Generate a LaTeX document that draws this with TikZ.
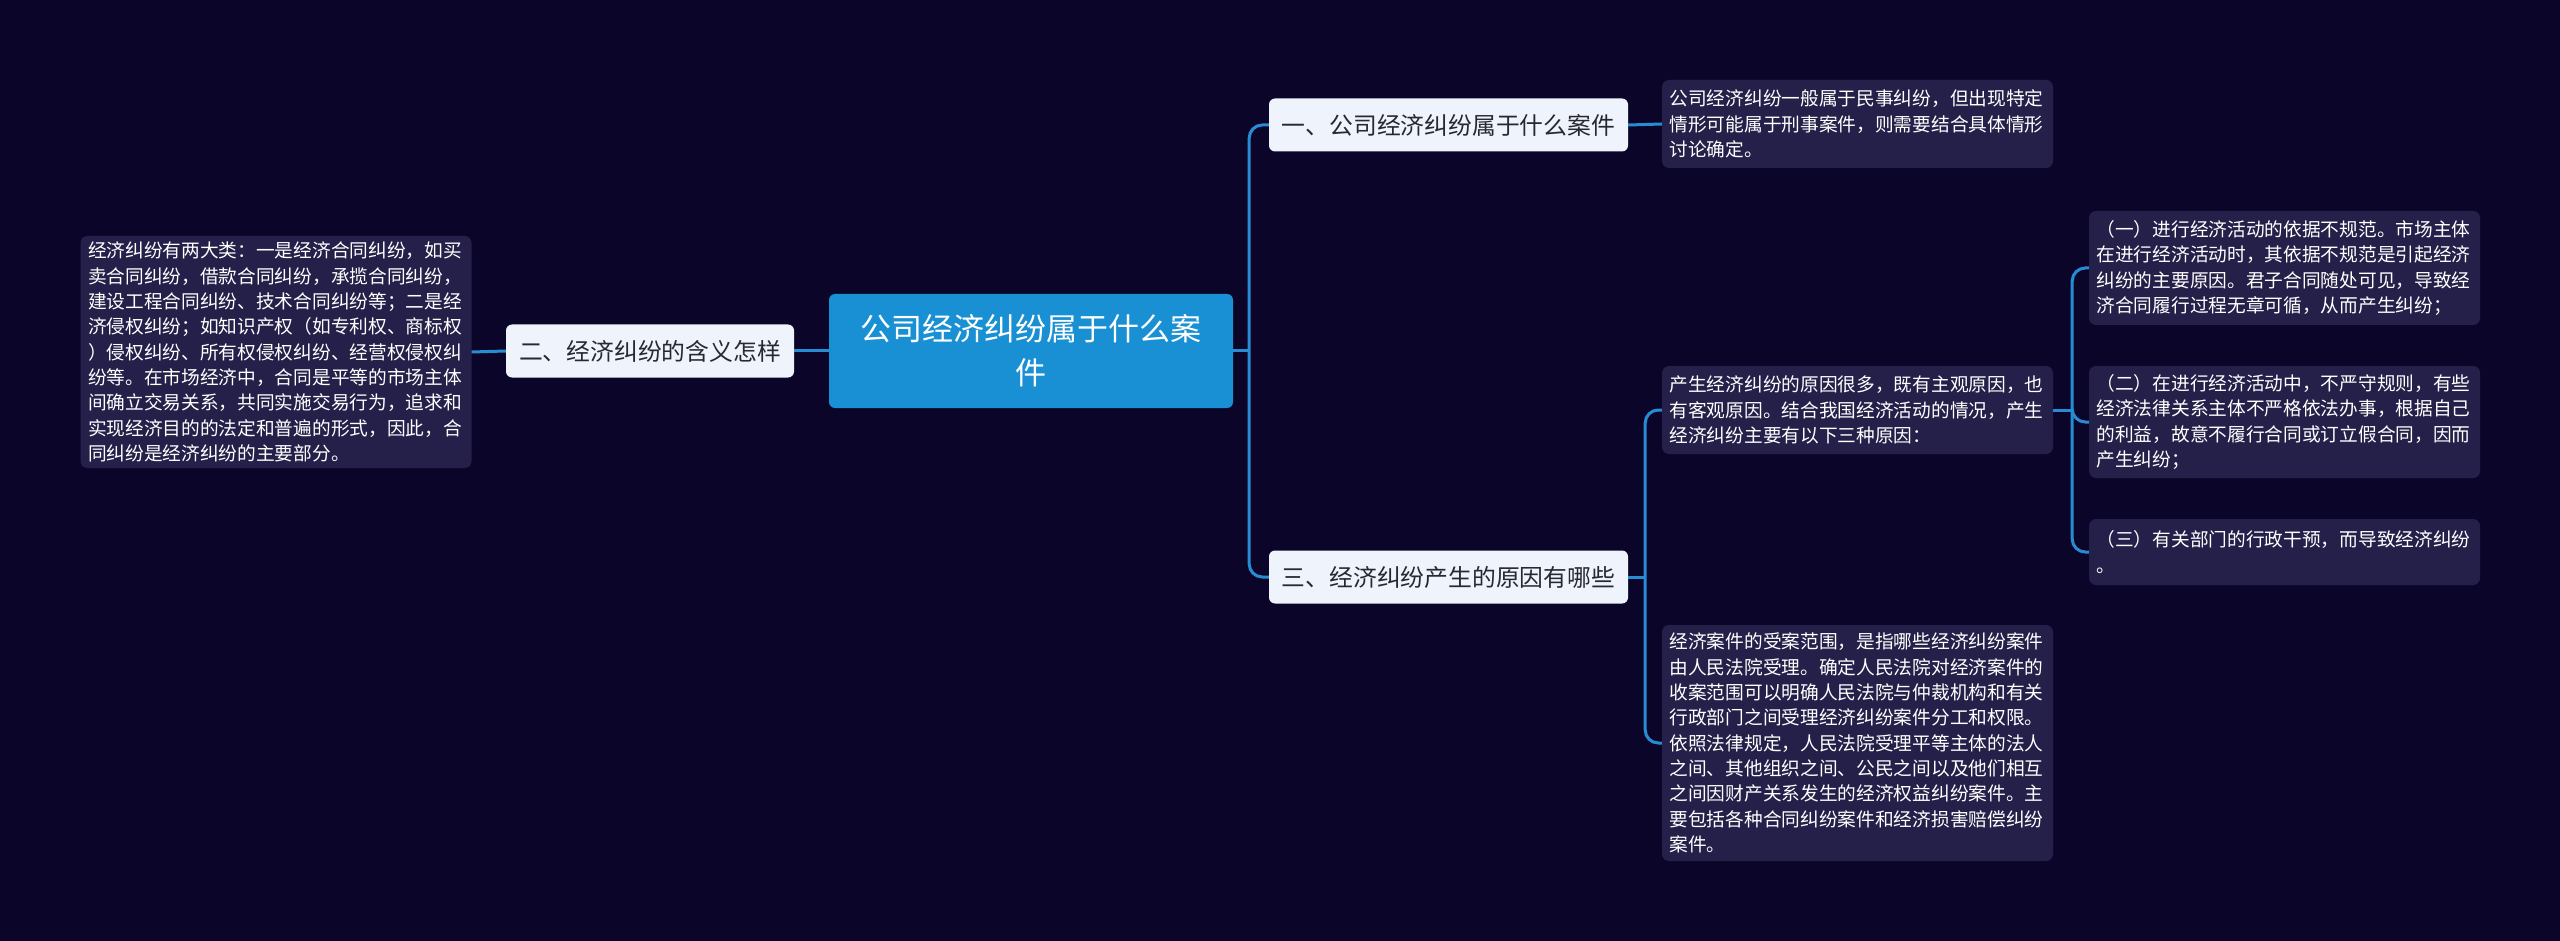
\documentclass[tikz,border=0pt]{standalone}
\usepackage{fontspec}
\setmainfont{Noto Sans CJK SC}
\usetikzlibrary{calc}
\definecolor{bgc}{RGB}{11,6,41}
\definecolor{leafc}{RGB}{37,32,73}
\definecolor{topicc}{RGB}{238,243,252}
\definecolor{rootc}{RGB}{26,144,212}
\definecolor{linec}{RGB}{40,140,212}
\definecolor{topictext}{RGB}{40,40,48}
\begin{document}
\begin{tikzpicture}[x=1pt,y=-1pt,
  rootnode/.style={fill=rootc, rounded corners=6pt, text=white, font=\fontsize{31}{44}\selectfont, align=center, inner sep=0pt, minimum width=404pt, minimum height=114pt, text width=380pt},
  topic/.style={fill=topicc, rounded corners=6pt, text=topictext, font=\fontsize{23.8}{30}\selectfont, inner sep=0pt, minimum height=53pt},
  leaf/.style={fill=leafc, rounded corners=7pt, text=white, font=\fontsize{18.7}{25.3}\selectfont, align=left, text width=376pt, inner sep=0pt, minimum width=391pt},
  conn/.style={draw=linec, line width=3pt, rounded corners=13pt}
]
\fill[bgc] (0,0) rectangle (2560,941);
\useasboundingbox (0,0) rectangle (2560,941);

\node[rootnode] (root) at (1031,351) {公司经济纠纷属于什么案\\件};

\node[topic, minimum width=288pt] (t2) at (650,351) {二、经济纠纷的含义怎样};
\node[leaf, minimum height=232pt] (l2) at (276,352) {经济纠纷有两大类：一是经济合同纠纷，如买\\卖合同纠纷，借款合同纠纷，承揽合同纠纷，\\建设工程合同纠纷、技术合同纠纷等；二是经\\济侵权纠纷；如知识产权（如专利权、商标权\\）侵权纠纷、所有权侵权纠纷、经营权侵权纠\\纷等。在市场经济中，合同是平等的市场主体\\间确立交易关系，共同实施交易行为，追求和\\实现经济目的的法定和普遍的形式，因此，合\\同纠纷是经济纠纷的主要部分。};

\node[topic, minimum width=359pt] (t1) at (1448.5,125) {一、公司经济纠纷属于什么案件};
\node[leaf, minimum height=88pt] (l1) at (1857.5,124) {公司经济纠纷一般属于民事纠纷，但出现特定\\情形可能属于刑事案件，则需要结合具体情形\\讨论确定。};

\node[topic, minimum width=359pt] (t3) at (1448.5,577) {三、经济纠纷产生的原因有哪些};
\node[leaf, minimum height=88pt] (l3a) at (1857.5,410) {产生经济纠纷的原因很多，既有主观原因，也\\有客观原因。结合我国经济活动的情况，产生\\经济纠纷主要有以下三种原因：};
\node[leaf, minimum height=236pt] (l3b) at (1857.5,743) {经济案件的受案范围，是指哪些经济纠纷案件\\由人民法院受理。确定人民法院对经济案件的\\收案范围可以明确人民法院与仲裁机构和有关\\行政部门之间受理经济纠纷案件分工和权限。\\依照法律规定，人民法院受理平等主体的法人\\之间、其他组织之间、公民之间以及他们相互\\之间因财产关系发生的经济权益纠纷案件。主\\要包括各种合同纠纷案件和经济损害赔偿纠纷\\案件。};

\node[leaf, minimum height=114pt] (s1) at (2284.5,268) {（一）进行经济活动的依据不规范。市场主体\\在进行经济活动时，其依据不规范是引起经济\\纠纷的主要原因。君子合同随处可见，导致经\\济合同履行过程无章可循，从而产生纠纷；};
\node[leaf, minimum height=112pt] (s2) at (2284.5,422) {（二）在进行经济活动中，不严守规则，有些\\经济法律关系主体不严格依法办事，根据自己\\的利益，故意不履行合同或订立假合同，因而\\产生纠纷；};
\node[leaf, minimum height=66pt] (s3) at (2284.5,552) {（三）有关部门的行政干预，而导致经济纠纷\\。};

% connectors
\coordinate (b1) at ($(root.east)+(16,0)$);
\coordinate (b2) at ($(t3.east)+(17,0)$);
\coordinate (b3) at ($(l3a.east)+(19,0)$);

\draw[conn] (root.west) -- (t2.east);
\draw[conn] (t2.west) -- (l2.east);
\draw[conn] (root.east) -- (b1);
\draw[conn] (b1) |- (t1.west);
\draw[conn] (b1) |- (t3.west);
\draw[conn] (t1.east) -- (l1.west);
\draw[conn] (t3.east) -- (b2);
\draw[conn] (b2) |- (l3a.west);
\draw[conn] (b2) |- (l3b.west);
\draw[conn] (l3a.east) -- (b3);
\draw[conn] (b3) |- (s1.west);
\draw[conn] (b3) |- (s2.west);
\draw[conn] (b3) |- (s3.west);
\end{tikzpicture}
\end{document}
